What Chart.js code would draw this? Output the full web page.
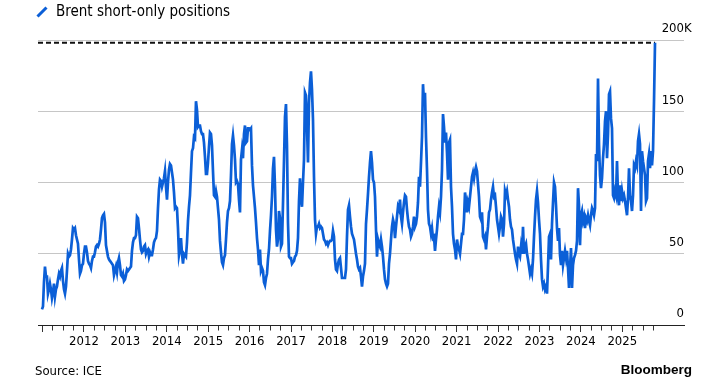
<!DOCTYPE html>
<html>
<head>
<meta charset="utf-8">
<script src="https://cdn.jsdelivr.net/npm/chart.js@4.4.1/dist/chart.umd.min.js"></script>
<style>
  html, body { margin: 0; padding: 0; background: #fff; }
</style>
</head>
<body>
<canvas id="chart" width="709" height="388"></canvas>
<script>
const title = 'Brent short-only positions'
const source = 'Source: ICE'
const brand = 'Bloomberg'

// readings taken off the chart, one about every 9 days, thousands of contracts
const firstReading = 2010.986   // decimal year
const readingStep = 0.02415     // years between readings
const shortsK = [
  11, 13, 30, 41, 34, 34, 22, 25, 29, 25, 19, 23, 29, 20, 25, 27, 32, 36, 34, 38,
  40, 31, 25, 22, 27, 38, 50, 48, 49, 53, 60, 68, 67, 68, 63, 60, 57, 46, 36, 38,
  42, 43, 50, 55, 55, 51, 45, 43, 42, 40, 45, 48, 48, 51, 55, 56, 55, 57, 60, 67,
  75, 77, 78, 72, 56, 52, 48, 46, 45, 44, 43, 42, 35, 38, 41, 37, 44, 47, 42, 35,
  34, 36, 31, 32, 35, 39, 38, 39, 40, 41, 52, 58, 61, 61, 63, 76, 75, 68, 60, 53,
  51, 52, 55, 56, 50, 52, 53, 48, 51, 49, 49, 53, 58, 60, 61, 66, 82, 95, 102, 101,
  97, 100, 103, 108, 97, 88, 100, 109, 113, 112, 107, 102, 93, 82, 83, 82, 68, 49, 53, 61,
  50, 43, 50, 49, 48, 58, 73, 83, 91, 107, 122, 124, 132, 131, 157, 151, 139, 140, 140, 136,
  134, 134, 128, 118, 106, 106, 114, 125, 135, 134, 126, 108, 91, 90, 94, 90, 82, 74, 59, 51,
  44, 42, 47, 49, 60, 72, 80, 82, 87, 105, 127, 133, 126, 116, 100, 101, 99, 88, 79, 116,
  123, 117, 134, 140, 128, 129, 138, 138, 137, 138, 112, 98, 90, 82, 72, 61, 53, 42, 53, 38,
  40, 38, 30, 28, 33, 36, 46, 53, 66, 77, 90, 110, 118, 97, 67, 55, 60, 80, 75, 55,
  57, 85, 115, 146, 155, 126, 72, 48, 47, 47, 43, 44, 45, 48, 49, 52, 61, 87, 103, 88,
  83, 100, 116, 163, 161, 139, 114, 156, 170, 178, 165, 144, 104, 74, 64, 69, 69, 71, 68, 69,
  68, 64, 60, 59, 57, 58, 56, 58, 59, 59, 60, 66, 62, 46, 39, 38, 43, 46, 47, 40,
  33, 33, 33, 33, 39, 62, 81, 84, 76, 69, 64, 62, 60, 55, 50, 46, 41, 39, 40, 34,
  27, 34, 38, 43, 71, 81, 92, 104, 114, 122, 114, 102, 100, 90, 67, 48, 60, 57, 55, 60,
  55, 48, 39, 32, 29, 27, 29, 43, 50, 60, 69, 74, 71, 61, 69, 76, 83, 81, 88, 76,
  71, 79, 86, 91, 90, 81, 74, 69, 67, 62, 64, 69, 76, 69, 71, 76, 86, 104, 97, 114,
  132, 169, 156, 163, 132, 109, 81, 71, 69, 64, 68, 61, 62, 52, 60, 67, 76, 83, 79, 90,
  109, 148, 139, 128, 135, 121, 102, 128, 130, 97, 83, 64, 57, 53, 46, 60, 55, 53, 50, 57,
  64, 64, 74, 93, 88, 79, 86, 83, 90, 97, 104, 107, 103, 108, 111, 108, 99, 90, 76, 74,
  79, 62, 60, 62, 53, 62, 69, 79, 81, 88, 93, 97, 90, 91, 83, 74, 69, 64, 69, 76,
  74, 62, 71, 94, 91, 94, 88, 83, 74, 69, 67, 60, 55, 50, 46, 43, 55, 50, 48, 55,
  50, 69, 50, 55, 57, 50, 46, 41, 36, 39, 36, 46, 62, 76, 88, 94, 86, 74, 64, 46,
  32, 27, 29, 25, 27, 22, 41, 62, 64, 46, 71, 86, 100, 97, 84, 68, 59, 68, 49, 42,
  52, 42, 47, 52, 47, 52, 40, 26, 40, 54, 26, 42, 47, 49, 52, 59, 96, 84, 56, 77,
  80, 73, 76, 68, 75, 73, 77, 73, 70, 77, 82, 80, 77, 82, 120, 115, 173, 127, 105, 96,
  103, 117, 127, 143, 150, 117, 134, 162, 164, 145, 138, 91, 89, 94, 91, 115, 91, 84, 98, 87,
  94, 89, 91, 87, 82, 77, 89, 110, 91, 87, 80, 91, 112, 110, 115, 112, 129, 134, 127, 80,
  122, 115, 110, 105, 87, 89, 115, 120, 110, 122, 112, 122, 157, 198
]

const yTicks = [0, 50, 100, 150, 200]
const yearLabels = [2012, 2013, 2014, 2015, 2016, 2017, 2018, 2019, 2020, 2021, 2022, 2023, 2024, 2025]
const xStart = 2010.89
const xEnd = 2026.49
const lastTick = 2025.75

const blue = '#0b5fd7'
const family = "'DejaVu Sans Condensed', 'DejaVu Sans', sans-serif"
const tickFont = { family: family, size: 13 }

const points = shortsK.map((v, i) => ({ x: firstReading + i * readingStep, y: v }))
const last = points[points.length - 1]

const isYearStart = v => Math.abs(v - Math.round(v)) < 1e-6

const chrome = {
  id: 'chrome',
  afterDraw(chart) {
    const { ctx, chartArea, scales } = chart
    ctx.save()
    // legend key
    ctx.strokeStyle = blue
    ctx.lineWidth = 3
    ctx.beginPath()
    ctx.moveTo(37.5, 16.5)
    ctx.lineTo(46.5, 7.5)
    ctx.stroke()
    ctx.fillStyle = '#000'
    ctx.textAlign = 'left'
    ctx.textBaseline = 'alphabetic'
    ctx.font = '15px ' + family
    ctx.fillText(title, 56, 16)
    // unit after top tick
    ctx.font = tickFont.size + 'px ' + family
    ctx.textBaseline = 'middle'
    ctx.fillText('K', chartArea.right, scales.y.getPixelForValue(yTicks[yTicks.length - 1]) - 11)
    // footer
    ctx.textBaseline = 'alphabetic'
    ctx.font = '13px ' + family
    ctx.fillText(source, 35, 375)
    ctx.font = "bold 13.5px 'Liberation Sans', Arial, sans-serif"
    ctx.textAlign = 'right'
    ctx.fillText(brand, 692, 374)
    ctx.restore()
  }
}

new Chart(document.getElementById('chart'), {
  type: 'line',
  data: {
    datasets: [{
      label: title,
      data: points,
      borderColor: blue,
      borderWidth: 2.7,
      pointRadius: 0,
      tension: 0,
      order: 0
    }, {
      label: 'latest',
      data: [{ x: xStart, y: last.y }, { x: last.x, y: last.y }],
      borderColor: '#111',
      borderWidth: 2,
      borderDash: [5, 3],
      pointRadius: 0,
      order: 1
    }]
  },
  options: {
    responsive: false,
    animation: false,
    layout: { padding: { top: 40, left: 38, right: 25, bottom: 0 } },
    plugins: { legend: { display: false }, tooltip: { enabled: false } },
    scales: {
      x: {
        type: 'linear',
        min: xStart,
        max: xEnd,
        afterBuildTicks: s => { s.ticks = s.ticks.filter(t => t.value >= 2011 && t.value <= lastTick + 1e-6) },
        afterFit: s => { s.height = 63 },
        grid: {
          drawOnChartArea: false,
          drawTicks: true,
          tickLength: 7,
          tickColor: '#333',
          // quarter ticks are shorter than year ticks
          tickBorderDash: c => c.tick && isYearStart(c.tick.value) ? [] : [4.5, 20]
        },
        border: { color: '#222', width: 1 },
        ticks: {
          stepSize: 0.25,
          includeBounds: false,
          autoSkip: false,
          maxRotation: 0,
          padding: 2,
          color: '#000',
          font: tickFont,
          callback: v => {
            const yr = Math.round(v)
            return isYearStart(v) && yearLabels.includes(yr) ? String(yr) : ''
          }
        }
      },
      y: {
        position: 'right',
        min: yTicks[0],
        max: yTicks[yTicks.length - 1],
        afterFit: s => { s.width = 0 },
        border: { display: false },
        grid: {
          color: c => c.tick && c.tick.value === 0 ? 'rgba(0,0,0,0)' : '#c6c6c6',
          drawTicks: false,
          lineWidth: 1
        },
        ticks: {
          stepSize: 50,
          mirror: true,
          padding: 0,
          labelOffset: -11,
          color: '#000',
          font: tickFont
        }
      }
    }
  },
  plugins: [chrome]
})
</script>
</body>
</html>
